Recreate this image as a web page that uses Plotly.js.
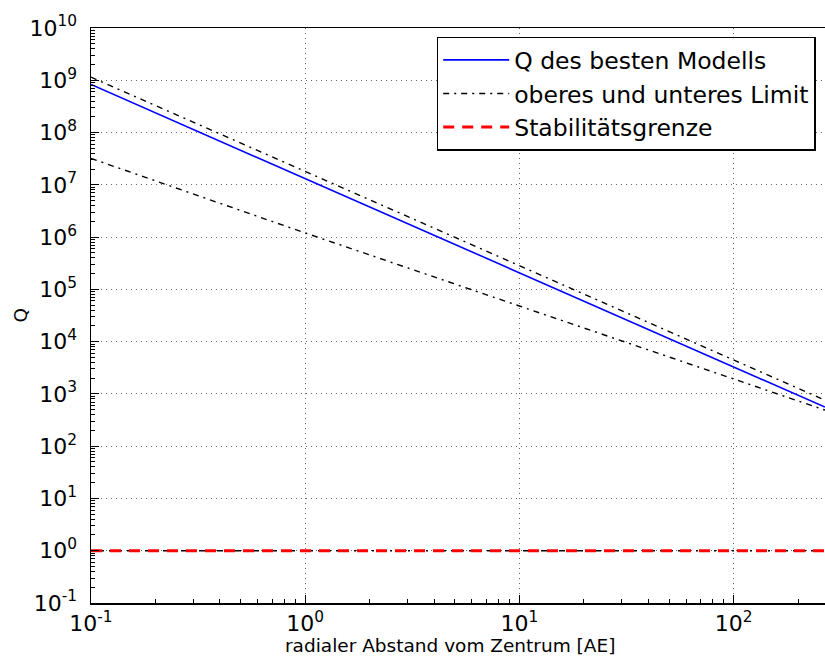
<!DOCTYPE html>
<html>
<head>
<meta charset="utf-8">
<script src="https://cdn.plot.ly/plotly-3.0.1.min.js"></script>
<style>html,body{margin:0;padding:0;background:#fff;}#chart{width:825px;height:659px;}</style>
</head>
<body>
<div id="chart"></div>
<script>
// radial distance [AE]
const radius = [0.1, 1, 10, 100, 267];
// Q of the best model
const qBest = [8.3e8, 1.3e7, 2.1e5, 3.3e3, 560];
// upper and lower limit
const qUpper = [1.15e9, 1.8e7, 2.9e5, 4.5e3, 760];
const qLower = [3.2e7, 1.2e6, 4.8e4, 1.95e3, 490];
// stability limit
const stabX = [0.1, 267];
const stabQ = [1, 1];

const xTitle = 'radialer Abstand vom Zentrum [AE]';
const yTitle = 'Q';
const xTickVals = [0.1, 1, 10, 100];
const xTickText = ['10<sup>-1</sup>', '10<sup>0</sup>', '10<sup>1</sup>', '10<sup>2</sup>'];
const yTickVals = [0.1, 1, 10, 100, 1e3, 1e4, 1e5, 1e6, 1e7, 1e8, 1e9, 1e10];
const yTickText = ['10<sup>-1</sup>', '10<sup>0</sup>', '10<sup>1</sup>', '10<sup>2</sup>', '10<sup>3</sup>',
  '10<sup>4</sup>', '10<sup>5</sup>', '10<sup>6</sup>', '10<sup>7</sup>', '10<sup>8</sup>', '10<sup>9</sup>', '10<sup>10</sup>'];

function minorVals(decades) {
  const out = [];
  decades.forEach(d => { for (let k = 2; k <= 9; k++) out.push(k * d); });
  return out;
}
const xMinor = minorVals([0.1, 1, 10, 100]);
const yMinor = minorVals(yTickVals);

const dd = '6px,5px,2px,5px';
const traces = [
  {x: radius, y: qBest, mode: 'lines', name: 'Q des besten Modells',
   line: {color: '#0000ff', width: 1.6}},
  {x: radius, y: qUpper, mode: 'lines', name: 'oberes und unteres Limit', legendgroup: 'lim',
   line: {color: '#000000', width: 1.4, dash: dd}},
  {x: radius, y: qLower, mode: 'lines', name: 'oberes und unteres Limit', legendgroup: 'lim', showlegend: false,
   line: {color: '#000000', width: 1.4, dash: dd}},
  {x: stabX, y: stabQ, mode: 'lines', showlegend: false,
   line: {color: '#000000', width: 1.4, dash: dd}},
  {x: stabX, y: stabQ, mode: 'lines', name: 'Stabilitätsgrenze',
   line: {color: '#ff0000', width: 3.2, dash: '11px,8px'}}
];

const fam = 'DejaVu Sans, sans-serif';

const layout = {
  width: 825, height: 659,
  margin: {l: 91, r: 0, t: 28, b: 56},
  paper_bgcolor: '#fff', plot_bgcolor: '#fff',
  font: {family: fam, color: '#000'},
  showlegend: true,
  legend: {x: 0.471, y: 0.985, xanchor: 'left', yanchor: 'top',
    bgcolor: '#fff', bordercolor: '#000', borderwidth: 1.5,
    tracegroupgap: 0, itemwidth: 66,
    font: {family: fam, size: 23.5, color: '#000'}},
  xaxis: {type: 'log', range: [-1, Math.log10(267)],
    tickvals: xTickVals, ticktext: xTickText,
    ticks: 'inside', ticklen: 8, tickwidth: 1, tickcolor: '#000',
    minor: {tickvals: xMinor, ticks: 'inside', ticklen: 4, tickcolor: '#000', showgrid: false},
    showline: true, linecolor: '#000', linewidth: 1.5, mirror: true,
    showgrid: true, gridcolor: '#666', griddash: '1px,4px', gridwidth: 1,
    zeroline: false,
    tickfont: {family: fam, size: 22, color: '#000'}},
  yaxis: {type: 'log', range: [-1, 10],
    tickvals: yTickVals, ticktext: yTickText,
    ticks: 'inside', ticklen: 8, tickwidth: 1, tickcolor: '#000',
    ticklabelstandoff: 8,
    minor: {tickvals: yMinor, ticks: 'inside', ticklen: 4, tickcolor: '#000', showgrid: false},
    showline: true, linecolor: '#000', linewidth: 1.5, mirror: false,
    showgrid: true, gridcolor: '#666', griddash: '1px,4px', gridwidth: 1,
    zeroline: false,
    tickfont: {family: fam, size: 22, color: '#000'}},
  annotations: [
    {text: xTitle, xref: 'paper', yref: 'paper', x: (450 - 91) / 734, y: (603 - 658) / 575,
     xanchor: 'center', yanchor: 'bottom', showarrow: false,
     font: {family: fam, size: 18.5, color: '#000'}},
    {text: yTitle, xref: 'paper', yref: 'paper', x: (20 - 91) / 734, y: 0.5, textangle: -90,
     xanchor: 'center', yanchor: 'middle', showarrow: false,
     font: {family: fam, size: 18.5, color: '#000'}}
  ]
};

Plotly.newPlot('chart', traces, layout, {staticPlot: true, displayModeBar: false});
</script>
</body>
</html>
